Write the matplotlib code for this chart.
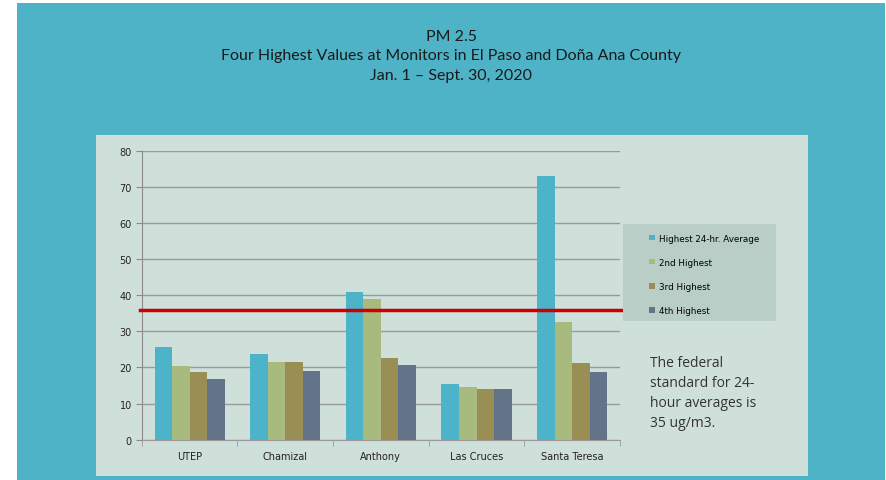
import numpy as np
import matplotlib.pyplot as plt
from matplotlib.patches import Rectangle, Patch

# monitors and their four highest 24-hr PM2.5 values (ug/m3)
monitors = ["UTEP", "Chamizal", "Anthony", "Las Cruces", "Santa Teresa"]
highest = [25.7, 23.7, 40.8, 15.3, 73.1]
second = [20.3, 21.6, 39.0, 14.6, 32.7]
third = [18.7, 21.4, 22.7, 14.0, 21.3]
fourth = [16.7, 18.9, 20.6, 13.9, 18.8]
series_names = ["Highest 24-hr. Average", "2nd Highest", "3rd Highest", "4th Highest"]
standard_line = 36

colors = ["#4db3c8", "#a9ba7e", "#998f54", "#647488"]
teal = "#4fb3c8"
panel_col = "#cfe0da"
legend_col = "#b8cec7"

W, H = 887, 481
fig = plt.figure(figsize=(W / 100, H / 100), dpi=100)
fig.patch.set_facecolor("white")

def px(x0, y0, x1, y1):
    # pixel box (top-left origin) -> figure fraction rect
    return [x0 / W, 1 - y1 / H, (x1 - x0) / W, (y1 - y0) / H]

def box(x0, y0, x1, y1, color, z):
    r = px(x0, y0, x1, y1)
    fig.patches.append(Rectangle((r[0], r[1]), r[2], r[3], transform=fig.transFigure,
                                 facecolor=color, edgecolor="none", zorder=z))

box(17, 4, 885, 481, teal, -2)
box(96, 136, 808, 477, panel_col, -1)

title_kw = dict(ha="center", va="center", fontsize=11.5, family="Lato", color="#1a1a1a")
fig.text(451 / W, 1 - 37 / H, "PM 2.5", **title_kw)
fig.text(451 / W, 1 - 56 / H, "Four Highest Values at Monitors in El Paso and Doña Ana County", **title_kw)
fig.text(451 / W, 1 - 76 / H, "Jan. 1 – Sept. 30, 2020", **title_kw)

ax = fig.add_axes(px(141.7, 151.7, 620, 440.7))
ax.set_facecolor("none")
ax.set_zorder(1)

x = np.arange(len(monitors))
bw = 0.183
all_series = [highest, second, third, fourth]
for i, vals in enumerate(all_series):
    ax.bar(x + (i - 1.5) * bw, vals, width=bw, color=colors[i], zorder=3,
           label=series_names[i])

ax.set_xlim(-0.5, len(monitors) - 0.5)
ax.set_ylim(0, 80)
ax.set_yticks(np.arange(0, 81, 10))
ax.yaxis.grid(True, color="#9a9a9a", linewidth=1)
ax.set_axisbelow(True)
for s in ["top", "right"]:
    ax.spines[s].set_visible(False)
ax.spines["left"].set_color("#8a8a8a")
ax.spines["bottom"].set_color("#9a9a9a")
ax.tick_params(axis="y", length=4, color="#8a8a8a", labelsize=7, labelcolor="#222222", pad=3)
ax.set_xticks(x)
ax.set_xticklabels(monitors, fontsize=7, color="#222222")
ax.tick_params(axis="x", length=0, pad=8)
ax.set_xticks(np.arange(-0.5, len(monitors)), minor=True)
ax.tick_params(axis="x", which="minor", length=4, color="#9a9a9a")

# federal standard line
ax.plot([-0.52, len(monitors) - 0.48], [standard_line, standard_line], color="#cc0000",
        linewidth=2.5, clip_on=False, zorder=5)

# legend box
box(623, 225, 776, 322, legend_col, 6)
handles = [Patch(facecolor=c, edgecolor="none") for c in colors]
leg = fig.legend(handles, series_names, loc="upper left",
                 bbox_to_anchor=(646 / W, 1 - 231 / H), frameon=False,
                 fontsize=6.3, handlelength=0.6, handleheight=0.6, handletextpad=0.5,
                 labelspacing=1.74, borderaxespad=0)
leg.set_zorder(7)

fig.text(650 / W, 1 - 356 / H, "The federal\nstandard for 24-\nhour averages is\n35 ug/m3.",
         ha="left", va="top", fontsize=10, family="Open Sans", color="#333333",
         linespacing=1.45)

fig.savefig("out.png", dpi=100)
